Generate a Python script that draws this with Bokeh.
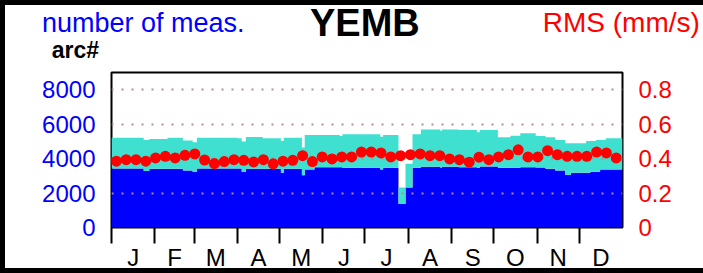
from bokeh.plotting import figure
from bokeh.layouts import column
from bokeh.models import LinearAxis, Range1d, FixedTicker, Div
from bokeh.embed import file_html
from bokeh.resources import INLINE

# ---------------- data ----------------
# segments of the year (day-of-year start), number of measurements
seg_start = [0, 23, 27, 40, 51, 58, 61, 90, 93, 96, 108, 121, 123, 136, 138, 145, 163, 165,
             192, 194, 205, 210, 215, 221, 235, 236, 248, 261, 263, 276, 285, 292, 303, 310,
             317, 324, 328, 339, 342, 346, 349, 353]
year_end = 365
count_blue = [3430, 3276, 3410, 3410, 3314, 3220, 3430, 3430, 3219, 3410, 3410, 3181, 3410, 3029,
              3371, 3505, 3505, 3467, 3371, 3467, 1371, 2324, 3467, 3524, 3467, 3524, 3505, 3467,
              3540, 3467, 3467, 3505, 3480, 3410, 3314, 3048, 3181, 3181, 3238, 3238, 3371, 3371]
count_total = [5217, 5086, 5140, 5217, 5050, 4950, 5217, 5181, 4990, 5257, 5181, 5029, 5217, 4648,
               5371, 5371, 5314, 5420, 5276, 5371, 2324, 3695, 5410, 5695, 5600, 5695, 5657, 5524,
               5657, 5238, 5333, 5467, 5314, 5238, 5086, 4895, 4895, 5029, 5029, 5086, 5086, 5181]

# weekly RMS (mm/s)
week = list(range(52))
rms = [0.385, 0.394, 0.394, 0.385, 0.404, 0.413, 0.404, 0.419, 0.427, 0.392, 0.371, 0.383, 0.394,
       0.390, 0.381, 0.394, 0.370, 0.385, 0.390, 0.417, 0.383, 0.410, 0.398, 0.410, 0.410, 0.438,
       0.438, 0.433, 0.410, 0.417, 0.423, 0.427, 0.417, 0.417, 0.398, 0.394, 0.379, 0.408, 0.394,
       0.410, 0.423, 0.451, 0.410, 0.410, 0.446, 0.423, 0.413, 0.413, 0.413, 0.438, 0.433, 0.404]
week_day = [7 * w + 3.5 for w in week]

month_names = ["J", "F", "M", "A", "M", "J", "J", "A", "S", "O", "N", "D"]
month_start = [0, 31, 59, 90, 120, 151, 181, 212, 243, 273, 304, 334]
month_len = [31, 28, 31, 30, 31, 30, 31, 31, 30, 31, 30, 31]
month_mid = [s + l / 2 for s, l in zip(month_start, month_len)]

left_ticks = [0, 2000, 4000, 6000, 8000]
grid_vals = [2000, 4000, 6000, 8000]
right_ticks = [0, 0.2, 0.4, 0.6, 0.8]
right_labels = ["0", "0.2", "0.4", "0.6", "0.8"]

station = "YEMB"
left_title = "number of meas."
left_unit = "arc#"
right_title = "RMS (mm/s)"

# ---------------- styles ----------------
FONT = "Liberation Sans"
BLUE = "#0000ff"
TURQ = "#40e0d0"
RED = "#ff0000"
GRID = "#b88c8c"

W = 703
HEAD_H = 64
MAIN_H = 209

# ---------------- header (titles) ----------------
def span(text, cx, top, size, color, bold=False):
    weight = "bold" if bold else "normal"
    return (f'<span style="position:absolute;left:{cx}px;top:{top}px;transform:translateX(-50%);'
            f'font-family:\'{FONT}\';font-size:{size}px;line-height:{size}px;font-weight:{weight};'
            f'color:{color};white-space:nowrap;">{text}</span>')


head_html = (f'<div style="position:relative;width:{W}px;height:{HEAD_H}px;margin:0;padding:0;">'
             + span(left_title, 143.3, 10.4, 27, BLUE)
             + span(station, 364.9, 3.8, 38, "black", bold=True)
             + span(right_title, 621.3, 8.6, 28, RED)
             + span(left_unit, 75.3, 38.8, 23, "black", bold=True)
             + '</div>')
head = Div(text=head_html, width=W, height=HEAD_H, styles={"margin": "0", "padding": "0"})

# ---------------- main plot ----------------
p = figure(width=W, height=MAIN_H, x_range=Range1d(0, year_end), y_range=Range1d(0, 9000),
           output_backend="svg", toolbar_location=None,
           min_border_left=111, min_border_right=81, min_border_top=8, min_border_bottom=44)
p.xgrid.visible = False
p.ygrid.visible = False
p.outline_line_color = "black"
p.outline_line_width = 2
p.background_fill_color = "white"
p.border_fill_color = None

step_x = seg_start + [year_end]
blue_y = count_blue + [count_blue[-1]]
total_y = count_total + [count_total[-1]]
p.varea_step(x=step_x, y1=[0] * len(step_x), y2=blue_y, step_mode="after", fill_color=BLUE)
p.varea_step(x=step_x, y1=blue_y, y2=total_y, step_mode="after", fill_color=TURQ)

# dotted grid above the bars
p.hspan(y=grid_vals, line_color=GRID, line_width=2, line_dash="2 8")

# RMS dots
p.extra_y_ranges = {"rms": Range1d(0, 0.9)}
p.scatter(x=week_day, y=rms, y_range_name="rms", size=11, fill_color=RED, line_color=None)

# left axis
ya = p.yaxis[0]
ya.ticker = FixedTicker(ticks=left_ticks)
ya.major_tick_out = 0
ya.major_tick_in = 0
ya.minor_tick_line_color = None
ya.axis_line_color = None
ya.major_label_standoff = 16
ya.major_label_text_color = BLUE
ya.major_label_text_font = FONT
ya.major_label_text_font_size = "24px"

# right axis
ra = LinearAxis(y_range_name="rms", ticker=FixedTicker(ticks=right_ticks),
                major_label_overrides={t: s for t, s in zip(right_ticks, right_labels)})
ra.major_tick_out = 0
ra.major_tick_in = 0
ra.minor_tick_line_color = None
ra.axis_line_color = None
ra.major_label_standoff = 16
ra.major_label_text_color = RED
ra.major_label_text_font = FONT
ra.major_label_text_font_size = "24px"
p.add_layout(ra, "right")

# bottom axis: month names at mid-month, tick marks at month boundaries
xa = p.xaxis[0]
xa.ticker = FixedTicker(ticks=month_mid, minor_ticks=month_start)
xa.major_label_overrides = {m: n for m, n in zip(month_mid, month_names)}
xa.major_tick_out = 0
xa.major_tick_in = 0
xa.major_tick_line_color = None
xa.minor_tick_out = 16
xa.minor_tick_in = 0
xa.minor_tick_line_width = 2
xa.minor_tick_line_color = "black"
xa.axis_line_color = None
xa.major_label_standoff = 0
xa.major_label_text_font = FONT
xa.major_label_text_font_size = "24px"
xa.major_label_text_color = "black"

root = column(head, p, spacing=0,
              styles={"box-shadow": "inset 5px 5px 0 0 black, inset 0 -5px 0 0 black"})

open("out.html", "w").write(file_html(root, INLINE))
